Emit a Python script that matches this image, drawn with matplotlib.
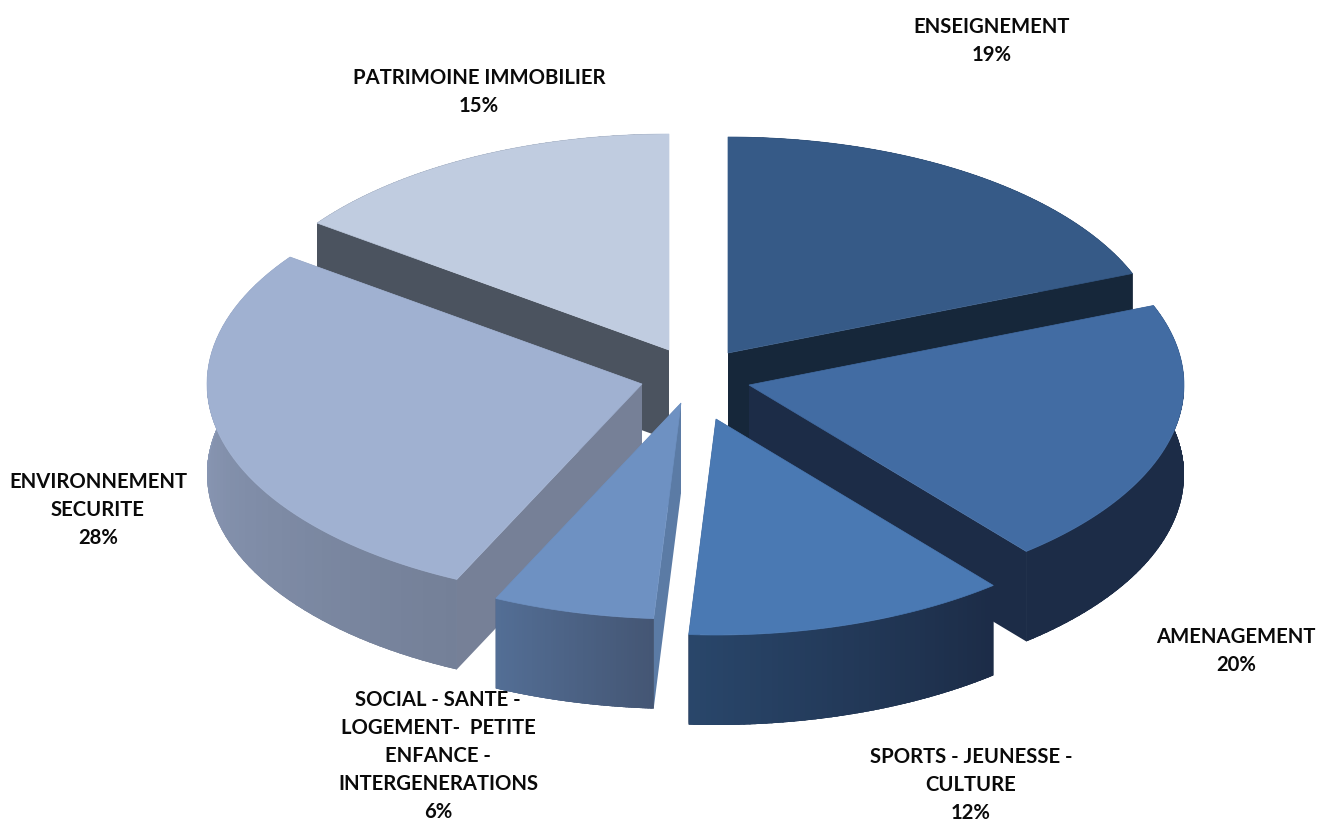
import numpy as np
import matplotlib.pyplot as plt
from matplotlib.colors import to_rgb

# ==========================================================
# Data
# ==========================================================

labels = [
    "ENSEIGNEMENT",
    "AMENAGEMENT",
    "SPORTS - JEUNESSE -\nCULTURE",
    "SOCIAL - SANTE -\nLOGEMENT-  PETITE\nENFANCE -\nINTERGENERATIONS",
    "ENVIRONNEMENT\nSECURITE",
    "PATRIMOINE IMMOBILIER",
]
shares = [19, 20, 12, 6, 28, 15]

# ==========================================================
# Style
# ==========================================================

top_colors = ["#365a87", "#426ca3", "#4a79b3", "#6e91c2", "#a0b1d1", "#c0cce0"]
side_colors = ["#16273a", "#1c2c47", "#1c2c47", "#5b7ba5", "#768097", "#4b535f"]
# outer wall, colour at the start and at the end of each slice
wall_start = ["#16273a", "#1c2c47", "#1c2c47", "#445674", "#748098", "#4b535f"]
wall_end = ["#16273a", "#1c2c47", "#29466a", "#536e95", "#93a2c1", "#4b535f"]

# how far each slice is pulled out from the middle of the pie
explode_x = [28, 49, 16, -19, -58, -31]
explode_y = [-25, 7, 41, 25, 6, -28]
draw_order = [5, 0, 4, 1, 3, 2]

center_x, center_y = 700, 378
radius_x, radius_y = 435, 216
depth = 90

label_x = [992, 1236, 971, 438, 98, 479]
label_y = [41, 651, 785, 756, 510, 92]

# ==========================================================
# Plot
# ==========================================================

plt.rcParams["font.family"] = ["Lato", "DejaVu Sans"]

fig = plt.figure(figsize=(13.21, 8.21), dpi=100)
ax = fig.add_axes([0, 0, 1, 1])
ax.set_xlim(0, 1321)
ax.set_ylim(821, 0)
ax.axis("off")

edges = np.cumsum([0] + shares) / sum(shares) * 2 * np.pi

for i in draw_order:
    x0 = center_x + explode_x[i]
    y0 = center_y + explode_y[i]
    t = np.linspace(edges[i], edges[i + 1], 60)
    xs = x0 + radius_x * np.sin(t)
    ys = y0 - radius_y * np.cos(t)

    # flat walls on both cut edges
    for j in [0, -1]:
        ax.fill(
            [x0, xs[j], xs[j], x0],
            [y0, ys[j], ys[j] + depth, y0 + depth],
            color=side_colors[i],
            lw=0,
        )

    # outer wall, small strips for the gradient, clipped to the whole wall
    wall = ax.fill(
        np.r_[xs, xs[::-1]],
        np.r_[ys, ys[::-1] + depth],
        color=wall_start[i],
        lw=0,
    )[0]
    c0 = np.array(to_rgb(wall_start[i]))
    c1 = np.array(to_rgb(wall_end[i]))
    for k in range(len(t) - 1):
        f = k / (len(t) - 2)
        strip = ax.fill(
            [xs[k], xs[k + 1], xs[k + 1], xs[k]],
            [ys[k], ys[k + 1], ys[k + 1] + depth, ys[k] + depth],
            color=c0 + (c1 - c0) * f,
            lw=1.5,
        )[0]
        strip.set_clip_path(wall)

    # top face
    ax.fill(
        np.r_[x0, xs],
        np.r_[y0, ys],
        color=top_colors[i],
        lw=0.5,
    )

for i in range(len(labels)):
    ax.text(
        label_x[i],
        label_y[i],
        f"{labels[i]}\n{shares[i]}%",
        ha="center",
        va="center",
        fontsize=14.6,
        fontweight="bold",
        color="#0a0a0a",
        linespacing=1.49,
    )

fig.savefig("out.png", dpi=100)
